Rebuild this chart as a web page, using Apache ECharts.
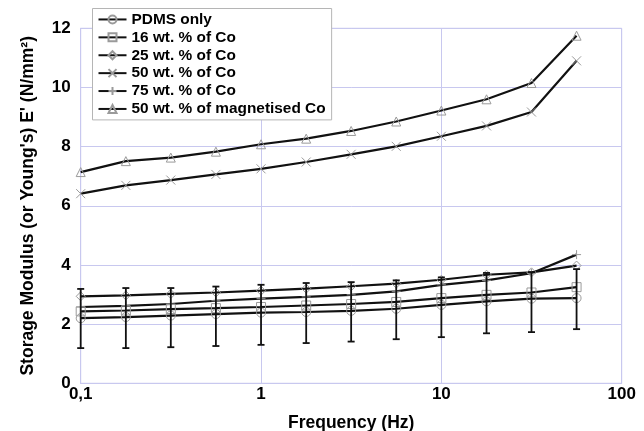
<!DOCTYPE html>
<html>
<head>
<meta charset="utf-8">
<script src="https://cdn.jsdelivr.net/npm/echarts@6/dist/echarts.min.js"></script>
<style>
html,body{margin:0;padding:0;background:#fff;}
#chart{width:644px;height:431px;}
</style>
</head>
<body>
<div id="chart"></div>
<script>
// frequencies (Hz)
var freq = [0.1, 0.178, 0.316, 0.562, 1, 1.78, 3.16, 5.62, 10, 17.8, 31.6, 56.2];
var pdms = [2.20, 2.24, 2.29, 2.34, 2.39, 2.41, 2.45, 2.52, 2.65, 2.77, 2.86, 2.88];
var pdmsLow = [1.19, 1.19, 1.22, 1.26, 1.30, 1.36, 1.41, 1.49, 1.56, 1.69, 1.73, 1.83];
var pdmsHigh = [3.19, 3.22, 3.22, 3.27, 3.33, 3.39, 3.42, 3.48, 3.58, 3.73, 3.76, 3.86];
var co16 = [2.43, 2.46, 2.51, 2.54, 2.58, 2.63, 2.68, 2.75, 2.88, 2.99, 3.07, 3.25];
var co25 = [2.94, 2.97, 3.02, 3.07, 3.13, 3.20, 3.28, 3.37, 3.50, 3.67, 3.75, 3.98];
var co50 = [6.41, 6.69, 6.87, 7.06, 7.25, 7.48, 7.74, 8.01, 8.35, 8.70, 9.17, 10.9];
var co75 = [2.58, 2.62, 2.68, 2.79, 2.86, 2.92, 2.99, 3.11, 3.33, 3.48, 3.72, 4.35];
var coMag = [7.14, 7.51, 7.63, 7.83, 8.08, 8.27, 8.53, 8.85, 9.22, 9.60, 10.15, 11.75];

var names = ['PDMS only', '16 wt. % of Co', '25 wt. % of Co', '50 wt. % of Co', '75 wt. % of Co', '50 wt. % of magnetised Co'];
var symbols = ['circle', 'rect', 'diamond', 'path://M0,0L10,10M10,0L0,10', 'path://M5,0L5,10M0,5L10,5', 'triangle'];
var values = [pdms, co16, co25, co50, co75, coMag];

var gridColor = '#c8c8ef';
var font = '"Liberation Sans", Arial, Helvetica, sans-serif';

function pairs(ys) {
	var out = [];
	for (var i = 0; i < freq.length; i++) out.push([freq[i], ys[i]]);
	return out;
}

var series = [];
for (var k = 0; k < names.length; k++) {
	series.push({
		name: names[k],
		type: 'line',
		data: pairs(values[k]),
		symbol: symbols[k],
		symbolSize: 9,
		showAllSymbol: true,
		lineStyle: { color: '#111', width: 2.2 },
		itemStyle: { color: 'none', borderColor: '#9a9a9a', borderWidth: 1 },
		emphasis: { disabled: true },
		z: 2
	});
}

// error bars of PDMS only
var errData = [];
for (var i = 0; i < freq.length; i++) errData.push([freq[i], pdmsLow[i], pdmsHigh[i]]);
series.push({
	name: 'err',
	type: 'custom',
	data: errData,
	encode: { x: 0, y: [1, 2] },
	z: 5,
	silent: true,
	renderItem: function (params, api) {
		var lo = api.coord([api.value(0), api.value(1)]);
		var hi = api.coord([api.value(0), api.value(2)]);
		var w = 3.5;
		var st = { stroke: '#111', lineWidth: 1.8 };
		return {
			type: 'group',
			children: [
				{ type: 'line', shape: { x1: lo[0], y1: lo[1], x2: hi[0], y2: hi[1] }, style: st },
				{ type: 'line', shape: { x1: lo[0] - w, y1: lo[1], x2: lo[0] + w, y2: lo[1] }, style: st },
				{ type: 'line', shape: { x1: hi[0] - w, y1: hi[1], x2: hi[0] + w, y2: hi[1] }, style: st }
			]
		};
	}
});

var chart = echarts.init(document.getElementById('chart'));
chart.setOption({
	animation: false,
	backgroundColor: '#fff',
	textStyle: { fontFamily: font },
	grid: {
		left: 80.7, right: 22.3, top: 28.3, bottom: 47.7,
		outerBoundsMode: 'none',
		containLabel: false,
		show: true, borderColor: gridColor, borderWidth: 1, backgroundColor: 'transparent'
	},
	legend: {
		data: names,
		orient: 'vertical',
		left: 92.5,
		top: 8.5,
		padding: [2, 6, 2, 5],
		itemGap: 0,
		itemWidth: 28,
		itemHeight: 10,
		backgroundColor: '#fff',
		borderColor: '#b5b5b5',
		borderWidth: 1,
		borderRadius: 0,
		selectedMode: false,
		textStyle: { fontFamily: font, fontSize: 15.4, fontWeight: 'bold', color: '#000', lineHeight: 17.9 }
	},
	xAxis: {
		type: 'log',
		logBase: 10,
		min: 0.1,
		max: 100,
		name: 'Frequency (Hz)',
		nameLocation: 'middle',
		nameGap: 31,
		nameTextStyle: { fontFamily: font, fontSize: 17.5, fontWeight: 'bold', color: '#000' },
		axisLine: { show: true, lineStyle: { color: gridColor, width: 1 } },
		axisTick: { show: false },
		minorTick: { show: false },
		splitLine: { show: true, lineStyle: { color: gridColor, width: 1 } },
		axisLabel: {
			margin: 3,
			fontFamily: font, fontSize: 17, fontWeight: 'bold', color: '#000',
			formatter: function (v) {
				if (v < 0.5) return '0,1';
				return String(Math.round(v));
			}
		}
	},
	yAxis: {
		type: 'value',
		min: 0,
		max: 12,
		interval: 2,
		name: "Storage Modulus (or Young's) E' (N/mm\u00b2)",
		nameLocation: 'middle',
		nameGap: 44,
		nameTextStyle: { fontFamily: font, fontSize: 17.5, fontWeight: 'bold', color: '#000' },
		axisLine: { show: true, lineStyle: { color: gridColor, width: 1 } },
		axisTick: { show: false },
		splitLine: { show: true, lineStyle: { color: gridColor, width: 1 } },
		axisLabel: { margin: 10, fontFamily: font, fontSize: 17, fontWeight: 'bold', color: '#000' }
	},
	series: series
});
</script>
</body>
</html>
